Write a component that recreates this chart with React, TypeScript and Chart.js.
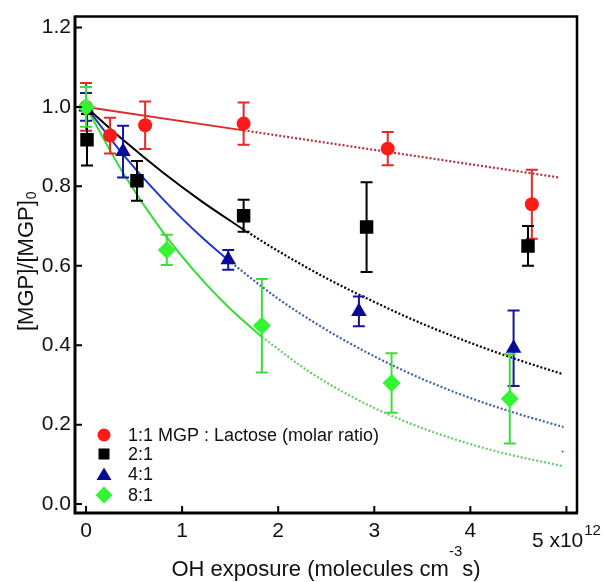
import React, { useEffect, useRef } from 'react';
import { Chart, registerables } from 'chart.js';
Chart.register(...registerables);

const FONT = '"Liberation Sans", Arial, Helvetica, sans-serif';

// axis ticks
const xTicks = [0, 1, 2, 3, 4, 5];
const yTicks = [0, 0.2, 0.4, 0.6, 0.8, 1.0, 1.2];
const xMin = -0.115;
const xMax = 5.11;
const yMin = -0.0225;
const yMax = 1.2275;

// 1:1 MGP : Lactose
const x11 = [0, 0.25, 0.615, 1.64, 3.14, 4.64];
const y11 = [1.0, 0.928, 0.954, 0.958, 0.895, 0.755];
const e11 = [0.06, 0.045, 0.06, 0.053, 0.042, 0.087];
// 2:1
const x21 = [0.01, 0.53, 1.64, 2.92, 4.6];
const y21 = [0.9175, 0.814, 0.726, 0.6975, 0.65];
const e21 = [0.065, 0.05, 0.04, 0.113, 0.05];
// 4:1
const x41 = [0, 0.385, 1.48, 2.84, 4.45];
const y41 = [1.0, 0.8875, 0.615, 0.485, 0.3925];
const e41 = [0.035, 0.065, 0.025, 0.0375, 0.095];
// 8:1
const x81 = [0, 0.84, 1.83, 3.18, 4.41];
const y81 = [1.0, 0.64, 0.449, 0.305, 0.265];
const e81 = [0.05, 0.038, 0.118, 0.075, 0.1125];

// fitted curves (solid = fitted range, dotted = extrapolation)
const fit11X = [0, 1.64];
const fit11Y = [1.0, 0.941];
const ext11X = [1.64, 4.92];
const ext11Y = [0.941, 0.8225];

const fit21X = [0, 0.4, 0.8, 1.2, 1.64];
const fit21Y = [1.0, 0.914, 0.835, 0.763, 0.691];
const ext21X = [1.64, 2.0, 2.5, 3.0, 3.5, 4.0, 4.5, 4.95];
const ext21Y = [0.691, 0.637, 0.569, 0.509, 0.454, 0.406, 0.363, 0.328];

const fit41X = [0, 0.4, 0.8, 1.2, 1.48];
const fit41Y = [1.0, 0.876, 0.768, 0.673, 0.614];
const ext41X = [1.48, 2.0, 2.5, 3.0, 3.5, 4.0, 4.5, 4.97];
const ext41Y = [0.614, 0.517, 0.439, 0.372, 0.315, 0.267, 0.227, 0.194];

const fit81X = [0, 0.4, 0.8, 1.2, 1.5, 1.83];
const fit81Y = [1.0, 0.828, 0.685, 0.567, 0.492, 0.421];
const ext81X = [1.83, 2.3, 2.8, 3.3, 3.8, 4.3, 4.97];
const ext81Y = [0.421, 0.337, 0.266, 0.21, 0.166, 0.131, 0.095];

// stray mark
const strayX = [4.96];
const strayY = [0.1325];

const legendLabels = ['1:1 MGP : Lactose (molar ratio)', '2:1', '4:1', '8:1'];

const pts = (xs: number[], ys: number[]) => xs.map((x, i) => ({ x, y: ys[i] }));

const series = [
  { xs: x11, ys: y11, es: e11, color: '#ff1a1a', bar: '#e42a2a', style: 'circle', r: 7 },
  { xs: x21, ys: y21, es: e21, color: '#000000', bar: '#000000', style: 'rect', r: 9.5 },
  { xs: x41, ys: y41, es: e41, color: '#0a0a96', bar: '#1414a0', style: 'triangle', r: 9 },
  { xs: x81, ys: y81, es: e81, color: '#33f533', bar: '#3fdc3f', style: 'rectRot', r: 9 },
];

const fitLine = (xs: number[], ys: number[], color: string, dotted: boolean) => ({
  data: pts(xs, ys),
  showLine: true,
  borderColor: color,
  borderWidth: dotted ? 2.2 : 2,
  borderDash: dotted ? [2, 2] : [],
  pointRadius: 0,
  fill: false,
  cubicInterpolationMode: 'monotone' as const,
  order: 10,
});

const framePlugin = {
  id: 'frameAndText',
  beforeDatasetDraw(chart: any, args: any) {
    const ds = chart.data.datasets[args.index];
    if (ds.errKey === undefined) return;
    const s = series[ds.errKey];
    const ctx = chart.ctx;
    const xs = chart.scales.x;
    const ys = chart.scales.y;
    ctx.save();
    ctx.strokeStyle = s.bar;
    ctx.lineWidth = 2;
    s.xs.forEach((x: number, i: number) => {
      const px = xs.getPixelForValue(x);
      const top = ys.getPixelForValue(s.ys[i] + s.es[i]);
      const bot = ys.getPixelForValue(s.ys[i] - s.es[i]);
      ctx.beginPath();
      ctx.moveTo(px, top);
      ctx.lineTo(px, bot);
      ctx.moveTo(px - 6, top);
      ctx.lineTo(px + 6, top);
      ctx.moveTo(px - 6, bot);
      ctx.lineTo(px + 6, bot);
      ctx.stroke();
    });
    ctx.restore();
  },
  afterDraw(chart: any) {
    const ctx = chart.ctx;
    const a = chart.chartArea;
    const xs = chart.scales.x;
    const ys = chart.scales.y;
    ctx.save();
    // frame
    ctx.strokeStyle = '#000';
    ctx.lineWidth = 2.5;
    ctx.beginPath();
    ctx.moveTo(a.left, a.top);
    ctx.lineTo(a.right, a.top);
    ctx.lineTo(a.right, a.bottom);
    ctx.stroke();
    ctx.lineWidth = 3;
    ctx.beginPath();
    ctx.moveTo(a.right + 1, a.bottom);
    ctx.lineTo(a.left, a.bottom);
    ctx.lineTo(a.left, a.top - 1);
    ctx.stroke();
    // inward ticks
    ctx.lineWidth = 2;
    ctx.beginPath();
    yTicks.forEach((v) => {
      const py = ys.getPixelForValue(v);
      ctx.moveTo(a.left, py);
      ctx.lineTo(a.left + 7, py);
    });
    xTicks.forEach((v) => {
      const px = xs.getPixelForValue(v);
      ctx.moveTo(px, a.bottom);
      ctx.lineTo(px, a.bottom - 7);
    });
    ctx.stroke();

    // x tick labels
    ctx.fillStyle = '#111';
    ctx.textBaseline = 'middle';
    ctx.textAlign = 'center';
    ctx.font = `21px ${FONT}`;
    xTicks.forEach((v) => {
      const px = xs.getPixelForValue(v);
      if (v === 5) {
        ctx.font = `21px ${FONT}`;
        const w1 = ctx.measureText('5 x10').width;
        ctx.font = `15px ${FONT}`;
        const w2 = ctx.measureText('12').width;
        const start = px - (w1 + w2 + 1) / 2;
        ctx.textAlign = 'left';
        ctx.font = `21px ${FONT}`;
        ctx.fillText('5 x10', start, 541);
        ctx.font = `15px ${FONT}`;
        ctx.fillText('12', start + w1 + 1, 531);
        ctx.textAlign = 'center';
        ctx.font = `21px ${FONT}`;
      } else {
        ctx.fillText(String(v), px, 531);
      }
    });

    // x title
    ctx.textBaseline = 'alphabetic';
    ctx.textAlign = 'left';
    const t1 = 'OH exposure (molecules cm';
    const t2 = '-3';
    const t3 = 's)';
    ctx.font = `22px ${FONT}`;
    const w1 = ctx.measureText(t1).width;
    const w3 = ctx.measureText(t3).width;
    ctx.font = `15px ${FONT}`;
    const w2 = ctx.measureText(t2).width;
    const cx = (a.left + a.right) / 2;
    let sx = cx - (w1 + w2 + w3) / 2;
    ctx.font = `22px ${FONT}`;
    ctx.fillText(t1, sx, 576);
    sx += w1;
    ctx.font = `15px ${FONT}`;
    ctx.fillText(t2, sx, 556);
    sx += w2;
    ctx.font = `22px ${FONT}`;
    ctx.fillText(t3, sx, 576);

    // y title (rotated)
    ctx.save();
    ctx.translate(33, 331);
    ctx.rotate(-Math.PI / 2);
    ctx.font = `22px ${FONT}`;
    const ym = '[MGP]/[MGP]';
    const wm = ctx.measureText(ym).width;
    ctx.fillText(ym, 0, 0);
    ctx.font = `14px ${FONT}`;
    ctx.fillText('0', wm + 1, 3);
    ctx.restore();

    // legend
    const lx = 104;
    const rows = [435, 454, 474, 495];
    ctx.font = `18px ${FONT}`;
    ctx.textBaseline = 'middle';
    ctx.textAlign = 'left';
    rows.forEach((ry, i) => {
      const s = series[i];
      ctx.fillStyle = s.color;
      ctx.beginPath();
      if (s.style === 'circle') {
        ctx.arc(lx, ry, 6.5, 0, Math.PI * 2);
      } else if (s.style === 'rect') {
        ctx.rect(lx - 5.5, ry - 5.5, 11, 11);
      } else if (s.style === 'triangle') {
        ctx.moveTo(lx, ry - 6.5);
        ctx.lineTo(lx + 7.5, ry + 6);
        ctx.lineTo(lx - 7.5, ry + 6);
        ctx.closePath();
      } else {
        ctx.moveTo(lx, ry - 8.5);
        ctx.lineTo(lx + 8.5, ry);
        ctx.lineTo(lx, ry + 8.5);
        ctx.lineTo(lx - 8.5, ry);
        ctx.closePath();
      }
      ctx.fill();
      ctx.fillStyle = '#111';
      ctx.fillText(legendLabels[i], 128, ry + 1);
    });
    ctx.restore();
  },
};

export default function App() {
  const ref = useRef<HTMLCanvasElement>(null);
  useEffect(() => {
    const markerSets = series.map((s, i) => ({
      data: pts(s.xs, s.ys),
      pointStyle: s.style,
      pointRadius: s.r,
      pointBackgroundColor: s.color,
      pointBorderColor: s.color,
      pointBorderWidth: 0,
      showLine: false,
      errKey: i,
      order: 4 - i,
    }));
    const datasets: any[] = [
      ...markerSets,
      fitLine(fit11X, fit11Y, '#df2a2a', false),
      fitLine(ext11X, ext11Y, '#b3303a', true),
      fitLine(fit21X, fit21Y, '#000000', false),
      fitLine(ext21X, ext21Y, '#000000', true),
      fitLine(fit41X, fit41Y, '#1f3acb', false),
      fitLine(ext41X, ext41Y, '#3f5fa8', true),
      fitLine(fit81X, fit81Y, '#33dd33', false),
      fitLine(ext81X, ext81Y, '#66cc66', true),
      {
        data: pts(strayX, strayY),
        pointRadius: 1,
        pointBackgroundColor: '#b0303a',
        pointBorderWidth: 0,
        showLine: false,
        order: 9,
      },
    ];
    const chart = new Chart(ref.current as HTMLCanvasElement, {
      type: 'scatter',
      data: { datasets },
      options: {
        responsive: false,
        animation: false,
        layout: { padding: { left: 0, top: 13, right: 27, bottom: 0 } },
        plugins: { legend: { display: false }, tooltip: { enabled: false } },
        scales: {
          x: {
            type: 'linear',
            min: xMin,
            max: xMax,
            grid: { display: false, drawTicks: false },
            border: { display: false },
            ticks: { display: false },
            afterBuildTicks: (s: any) => {
              s.ticks = xTicks.map((v) => ({ value: v }));
            },
            afterFit: (s: any) => {
              s.height = 69;
            },
          },
          y: {
            type: 'linear',
            min: yMin,
            max: yMax,
            grid: { display: false, drawTicks: false },
            border: { display: false },
            ticks: {
              font: { family: FONT, size: 21 },
              color: '#111',
              padding: 4,
              callback: (v: any) => Number(v).toFixed(1),
            },
            afterBuildTicks: (s: any) => {
              s.ticks = yTicks.map((v) => ({ value: v }));
            },
            afterFit: (s: any) => {
              s.width = 75;
            },
          },
        },
      } as any,
      plugins: [framePlugin],
    });
    return () => chart.destroy();
  }, []);
  return (
    <div style={{ position: 'absolute', left: 0, top: 0, width: 604, height: 582, background: '#fff' }}>
      <canvas ref={ref} width={604} height={582} style={{ width: 604, height: 582, display: 'block' }} />
    </div>
  );
}
